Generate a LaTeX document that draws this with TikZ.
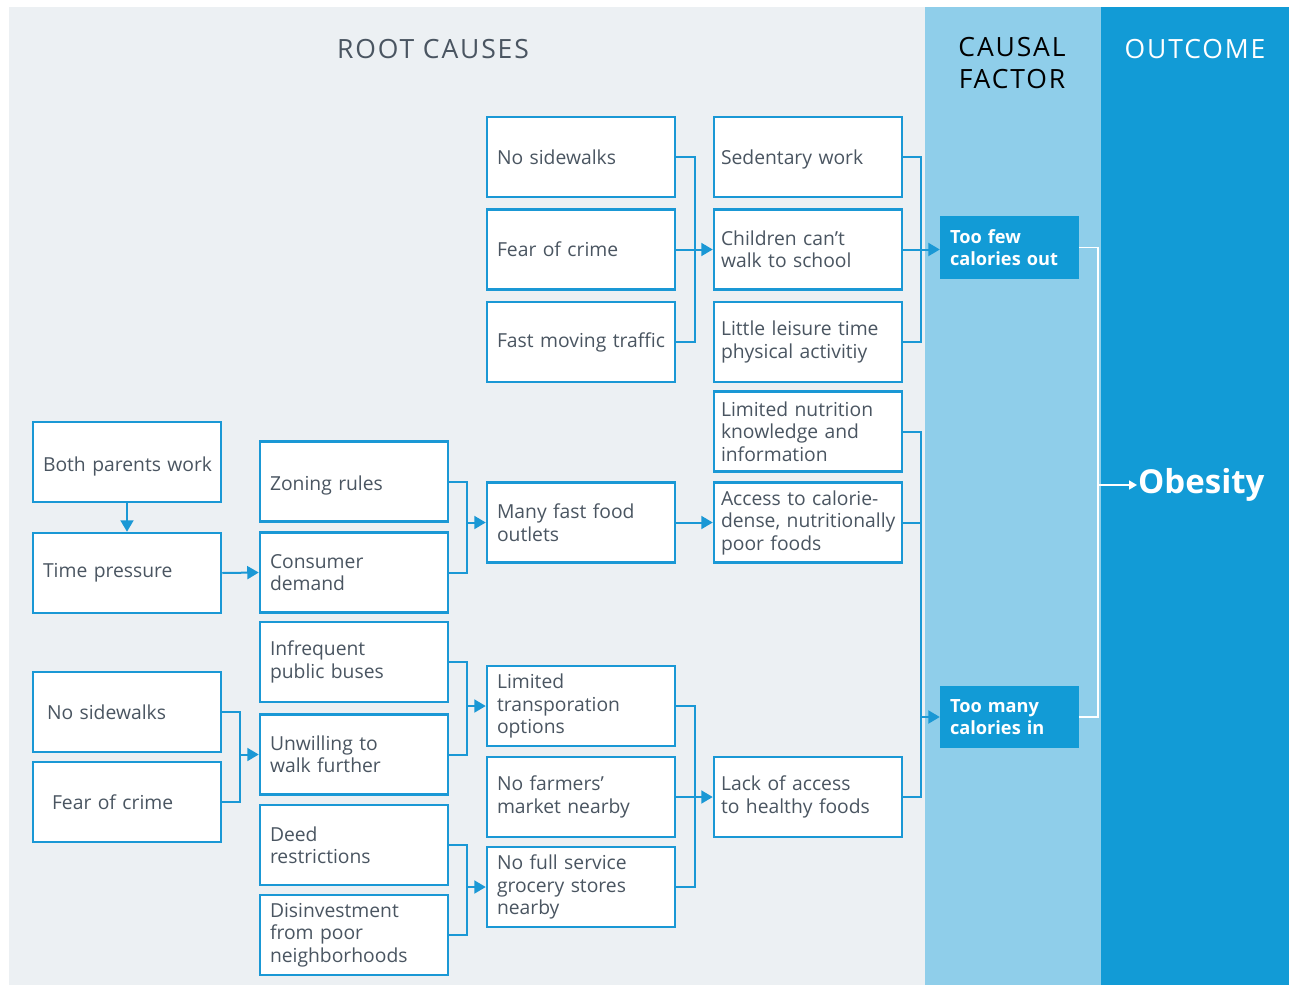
\documentclass[tikz,border=0pt]{standalone}
\usepackage{fontspec}
\setmainfont{Open Sans}
\usetikzlibrary{arrows.meta}
\definecolor{bgray}{HTML}{ECF0F3}
\definecolor{lblue}{HTML}{8FCEEA}
\definecolor{dblue}{HTML}{129BD6}
\definecolor{lineblue}{HTML}{1A98D5}
\definecolor{txt}{HTML}{4A5561}
\newcommand{\dn}[2]{\raisebox{-#1}[\height][\depth]{#2}}
\begin{document}
\begin{tikzpicture}[x=1pt,y=-1pt,
  cbox/.style={draw=lineblue, line width=2.5pt, fill=white, minimum width=188pt,
    minimum height=80pt, text width=168pt, inner xsep=10pt, inner ysep=0pt,
    align=left, font=\fontsize{19.3}{22.5}\selectfont, text=txt},
  dcol/.style={inner xsep=7pt, text width=174pt},
  fbox/.style={fill=dblue, minimum width=139pt, minimum height=63pt, text width=119pt,
    inner xsep=10pt, inner ysep=0pt, align=left, text=white,
    font=\bfseries\fontsize{18.2}{22.5}\selectfont},
  conn/.style={draw=lineblue, line width=2pt},
  arr/.style={conn, -{Triangle[length=11.5pt,width=13pt]}},
  wconn/.style={draw=white, line width=1.6pt},
  warr/.style={wconn, -{Triangle[length=8pt,width=9pt]}},
  head/.style={font=\fontsize{26.5}{32}\selectfont\addfontfeature{LetterSpace=7}, align=center}
]
\useasboundingbox (0,0) rectangle (1289,985);
\fill[white] (0,0) rectangle (1289,985);
\fill[bgray] (9,7) rectangle (925,985);
\fill[lblue] (925,7) rectangle (1101,985);
\fill[dblue] (1101,7) rectangle (1289,985);

\node[head, text=txt] (hroot) at (433,49) {ROOT CAUSES};
\node[head, text=black, anchor=north] (hcausal) at (1012,34) {CAUSAL\\FACTOR};
\node[head, text=white] (hout) at (1195,49) {OUTCOME};

% column A
\node[cbox] (a1) at (127,462) {\dn{4pt}{Both parents work}};
\node[cbox] (a2) at (127,573) {Time pressure};
\node[cbox] (a3) at (127,712) {\hspace*{4pt}No sidewalks};
\node[cbox] (a4) at (127,802) {\hspace*{9pt}Fear of crime};
% column B
\node[cbox] (b1) at (354,481.5) {\dn{4pt}{Zoning rules}};
\node[cbox] (b2) at (354,572.5) {Consumer\\demand};
\node[cbox] (b3) at (354,662) {Infrequent\\public buses};
\node[cbox] (b4) at (354,754.5) {Unwilling to\\walk further};
\node[cbox] (b5) at (354,845) {Deed\\restrictions};
\node[cbox] (b6) at (354,935) {Disinvestment\\from poor\\neighborhoods};
% column C
\node[cbox] (c1) at (581,157) {No sidewalks};
\node[cbox] (c2) at (581,249.5) {Fear of crime};
\node[cbox] (c3) at (581,342) {\mbox{Fast moving traffic}};
\node[cbox] (c4) at (581,522.5) {Many fast food\\outlets};
\node[cbox] (c5) at (581,706) {Limited\\transporation\\options};
\node[cbox] (c6) at (581,797) {No farmers’\\market nearby};
\node[cbox] (c7) at (581,887) {No full service\\grocery stores\\nearby};
% column D
\node[cbox, dcol] (d1) at (808,157) {\dn{2pt}{Sedentary work}};
\node[cbox, dcol] (d2) at (808,249.5) {Children can’t\\walk to school};
\node[cbox, dcol] (d3) at (808,342) {Little leisure time\\physical activitiy};
\node[cbox, dcol] (d4) at (808,431.5) {Limited nutrition\\knowledge and\\information};
\node[cbox, dcol] (d5) at (808,522.5) {Access to calorie-\\\mbox{dense, nutritionally}\\poor foods};
\node[cbox, dcol] (d6) at (808,797) {Lack of access\\to healthy foods};
% causal factors
\node[fbox] (few) at (1009.5,247.5) {Too few\\calories out};
\node[fbox, minimum height=62pt] (many) at (1009.5,717) {Too many\\calories in};
% outcome
\node[anchor=west, inner sep=1pt, text=white, font=\bfseries\fontsize{33}{36}\selectfont] (obes) at (1137,485) {Obesity};

% bus coordinates
\coordinate (busA) at (240,0);
\coordinate (busB) at (467,0);
\coordinate (busC) at (695,0);
\coordinate (busD) at (921,0);
\coordinate (busO) at (1098,0);

% connectors
\draw[arr] (a1.south) -- (a2.north);
\draw[arr] (a2.east) -- (b2.west);
\draw[conn] (a3.east) -| (busA |- a4.east) -- (a4.east);
\draw[arr] (busA |- b4.west) -- (b4.west);

\draw[conn] (b1.east) -| (busB |- b2.east) -- (b2.east);
\draw[arr] (busB |- c4.west) -- (c4.west);
\draw[conn] (b3.east) -| (busB |- b4.east) -- (b4.east);
\draw[arr] (busB |- c5.west) -- (c5.west);
\draw[conn] (b5.east) -| (busB |- b6.east) -- (b6.east);
\draw[arr] (busB |- c7.west) -- (c7.west);

\draw[conn] (c1.east) -| (busC |- c3.east) -- (c3.east);
\draw[arr] (c2.east) -- (d2.west);
\draw[arr] (c4.east) -- (d5.west);
\draw[conn] (c5.east) -| (busC |- c7.east) -- (c7.east);
\draw[arr] (c6.east) -- (d6.west);

\draw[conn] (d1.east) -| (busD |- d3.east) -- (d3.east);
\draw[arr] (d2.east) -- (few.west |- d2.east);
\draw[conn] (d4.east) -| (busD |- d6.east) -- (d6.east);
\draw[conn] (d5.east) -- (busD |- d5.east);
\draw[arr] (busD |- many.west) -- (many.west);

\draw[wconn] (few.east) -| (busO |- many.east) -- (many.east);
\draw[warr] (busO |- obes.west) -- (obes.west);
\end{tikzpicture}
\end{document}
